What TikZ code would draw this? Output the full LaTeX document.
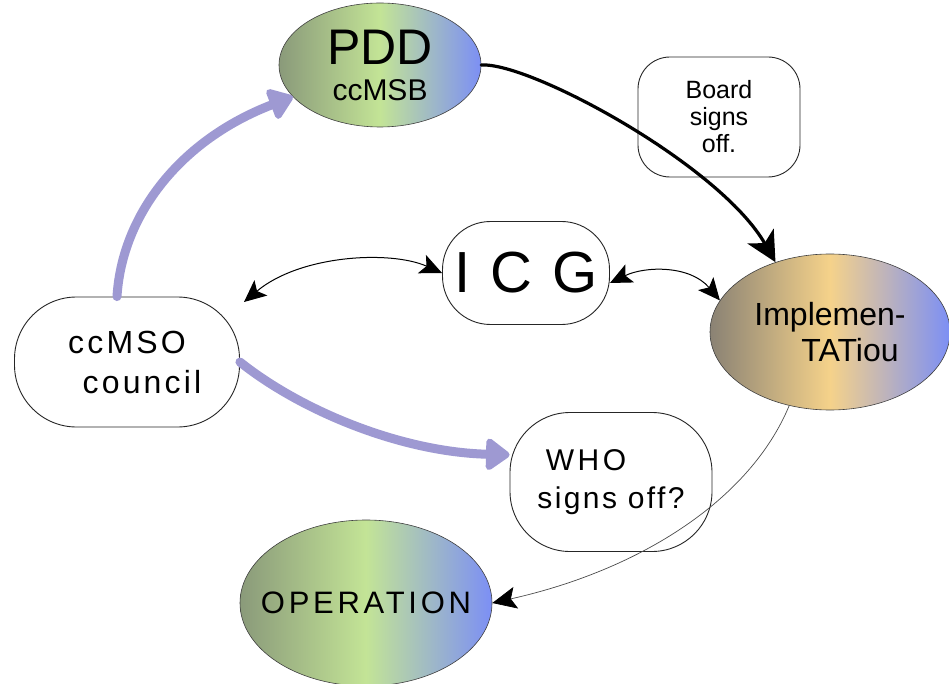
\documentclass[tikz,border=0pt]{standalone}
\usepackage{fontspec}
\setmainfont{Liberation Sans}
\usetikzlibrary{arrows.meta,shapes.geometric}
\definecolor{lav}{HTML}{9E99D2}
\definecolor{gleft}{HTML}{8A9A7A}
\definecolor{gmid}{HTML}{C3E496}
\definecolor{gright}{HTML}{7C8FF5}
\definecolor{oleft}{HTML}{8A8274}
\definecolor{omid}{HTML}{F5D28A}
\newcommand{\fsz}[1]{\fontsize{#1}{#1}\selectfont}
\begin{document}
\begin{tikzpicture}[x=1pt,y=-1pt,
  bubble/.style={draw=black!85, line width=0.9pt, fill=white, align=center, inner sep=0pt},
  oval/.style={ellipse, draw=black!75, line width=0.6pt, align=center, inner sep=0pt},
  greenoval/.style={oval, left color=gleft, right color=gright, middle color=gmid},
  goldoval/.style={oval, left color=oleft, right color=gright, middle color=omid},
  purp/.style={draw=lav, line width=9pt, line cap=round, -{Triangle[round, length=26pt, width=36pt]}},
  blk/.style={draw=black, line width=3.2pt, line cap=round, -{Stealth[length=30pt, width=30pt, inset=8pt]}},
  thinarr/.style={draw=black, line width=1pt, {Stealth[length=22pt, width=20pt, inset=5pt]}-{Stealth[length=22pt, width=20pt, inset=5pt]}},
  oneway/.style={draw=black!70, line width=0.7pt, -{Stealth[length=24pt, width=22pt, inset=5pt, black]}}
]
\useasboundingbox (0,0) rectangle (949,684);
\fill[white] (0,0) rectangle (949,684);

% nodes
\node[greenoval, minimum width=202pt, minimum height=124pt, font=\fsz{50}] (pdd) at (380,65)
  {\makebox[0pt]{PDD}\\[-14pt]\makebox[0pt]{\fsz{30}ccMSB}};
\node[goldoval, minimum width=240pt, minimum height=156pt, font=\fsz{32}] (impl) at (830,332)
  {\makebox[0pt]{Implemen-}\\[4pt]\makebox[0pt]{\hspace*{40pt}TATiou}};
\node[greenoval, minimum width=252pt, minimum height=166pt, font=\fsz{31}] (op) at (366,603)
  {\makebox[0pt]{\addfontfeature{LetterSpace=12}OPERATION}};

\node[bubble, rounded corners=32pt, minimum width=162pt, minimum height=120pt, font=\fsz{25}] (board) at (719,117)
  {Board\\[2pt]signs\\[2pt]off.};
\node[bubble, rounded corners=48pt, minimum width=167pt, minimum height=103pt, font=\fsz{58}] (icg) at (526,273)
  {\addfontfeature{LetterSpace=35}ICG};
\node[bubble, rounded corners=62pt, minimum width=225pt, minimum height=130pt, font=\fsz{32}] (ccmso) at (127,362)
  {\addfontfeature{LetterSpace=10}ccMSO\\[8pt]\hspace*{30pt}\addfontfeature{LetterSpace=10}council};
\node[bubble, rounded corners=60pt, minimum width=202pt, minimum height=139pt, font=\fsz{30}] (who) at (611,482)
  {\addfontfeature{LetterSpace=12}WHO\hspace*{50pt}\\[8pt]\addfontfeature{LetterSpace=8}signs off?};

% free end
\coordinate (lt) at (244,302);

% connectors
\draw[purp] ([xshift=-10pt]ccmso.north) .. controls (122,215) and (180,140) .. (pdd.200);
\draw[purp] (ccmso.east) .. controls (300,410) and (400,452) .. (who.165);
\draw[blk] (pdd.east) .. controls (530,62) and (720,165) .. (impl.128);
\draw[thinarr] (lt) .. controls (300,255) and (390,250) .. (icg.west);
\draw[thinarr] ([yshift=-10pt]icg.east) .. controls (645,266) and (690,265) .. (impl.164);
\draw[oneway] (impl.241) .. controls (750,500) and (640,570) .. (op.east);
\end{tikzpicture}
\end{document}
